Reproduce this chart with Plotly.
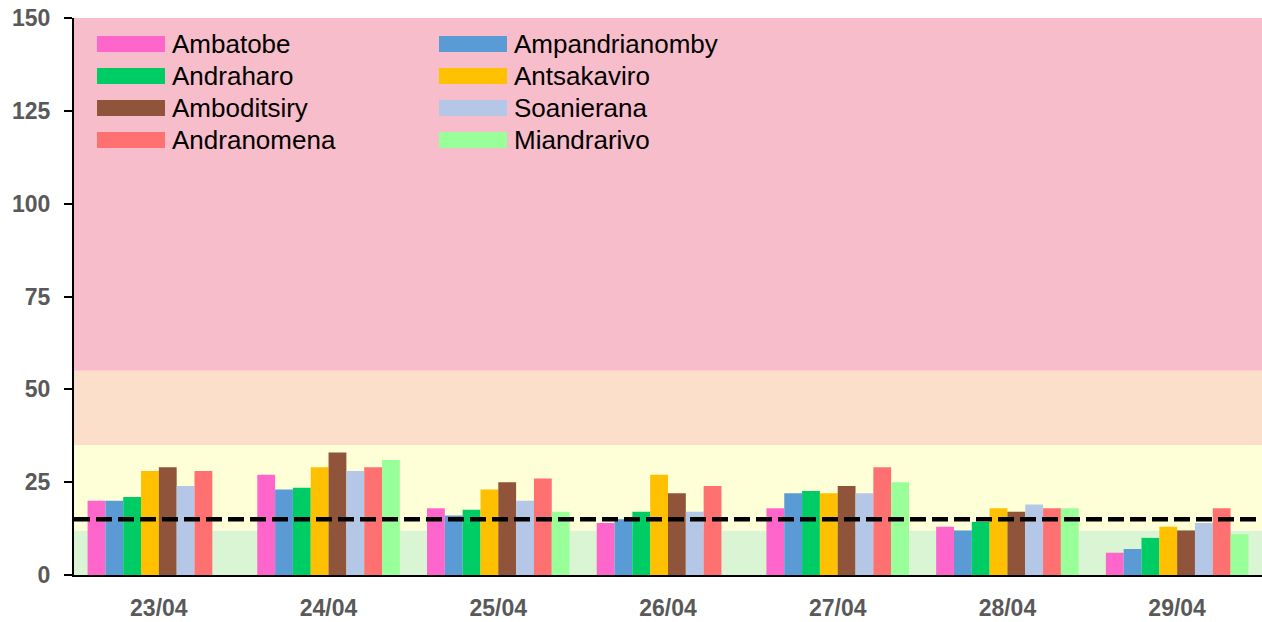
import plotly.graph_objects as go

dates = ["23/04", "24/04", "25/04", "26/04", "27/04", "28/04", "29/04"]

series_names = ["Ambatobe", "Ampandrianomby", "Andraharo", "Antsakaviro",
                "Amboditsiry", "Soanierana", "Andranomena", "Miandrarivo"]
series_colors = ["#FF66CC", "#5B9BD5", "#00CC66", "#FFC000",
                 "#8F5439", "#B4C7E7", "#FF7171", "#99FF99"]

ambatobe = [20, 27, 18, 14, 18, 13, 6]
ampandrianomby = [20, 23, 16, 15, 22, 12, 7]
andraharo = [21, 23.5, 17.6, 17, 22.6, 14.3, 10]
antsakaviro = [28, 29, 23, 27, 22, 18, 13]
amboditsiry = [29, 33, 25, 22, 24, 17, 12]
soanierana = [24, 28, 20, 17, 22, 19, 14]
andranomena = [28, 29, 26, 24, 29, 18, 18]
miandrarivo = [None, 31, 17, None, 25, 18, 11]

series_values = [ambatobe, ampandrianomby, andraharo, antsakaviro,
                 amboditsiry, soanierana, andranomena, miandrarivo]

y_ticks = [0, 25, 50, 75, 100, 125, 150]
threshold = 15
band_edges = [0, 12, 35, 55, 150]
band_colors = ["#D9F5D3", "#FEFED7", "#FBDFCB", "#F8BDCB"]

fig = go.Figure()
for name, color, vals in zip(series_names, series_colors, series_values):
    fig.add_trace(go.Bar(x=dates, y=vals, name=name,
                         marker=dict(color=color, line=dict(width=0)),
                         showlegend=False))

# background bands
for lo, hi, c in zip(band_edges[:-1], band_edges[1:], band_colors):
    fig.add_shape(type="rect", xref="paper", yref="y", x0=0, x1=1, y0=lo, y1=hi,
                  fillcolor=c, line=dict(width=0), layer="below")

# threshold dashed line
fig.add_shape(type="line", xref="paper", yref="y", x0=0, x1=1, y0=threshold, y1=threshold,
              line=dict(color="black", width=4.5, dash="16px,6px"), layer="above")

# legend (2 columns, row-major), positions in page pixels
plot_left, plot_right, plot_top, plot_bottom = 74, 1262, 18, 575
plot_w = plot_right - plot_left
plot_h = plot_bottom - plot_top
col_x = [97, 439]
row_y = [44, 76, 108, 140]
sw_w, sw_h = 68, 16
for i, (name, color) in enumerate(zip(series_names, series_colors)):
    col, row = i % 2, i // 2
    x0 = (col_x[col] - plot_left) / plot_w
    x1 = (col_x[col] + sw_w - plot_left) / plot_w
    yc = 1 - (row_y[row] - plot_top) / plot_h
    hh = sw_h / 2 / plot_h
    fig.add_shape(type="rect", xref="paper", yref="paper", x0=x0, x1=x1,
                  y0=yc - hh, y1=yc + hh, fillcolor=color, line=dict(width=0))
    fig.add_annotation(xref="paper", yref="paper",
                       x=(col_x[col] + sw_w + 5 - plot_left) / plot_w, y=yc,
                       text=name, showarrow=False, xanchor="left", yanchor="middle",
                       font=dict(family="Liberation Sans", size=26, color="black"))

fig.update_layout(
    width=1262, height=622,
    margin=dict(l=74, r=0, t=18, b=47, pad=0),
    paper_bgcolor="white", plot_bgcolor="white",
    barmode="group", bargap=0.16, bargroupgap=0,
    xaxis=dict(showline=True, linecolor="black", linewidth=2, ticks="",
               showgrid=False, zeroline=False, ticklabelstandoff=11, automargin=False,
               tickfont=dict(family="Liberation Sans", size=23, color="#595959", weight="bold")),
    yaxis=dict(range=[0, 150], tickvals=y_ticks, showline=True, linecolor="black",
               linewidth=2, ticks="outside", ticklen=8, tickwidth=2, tickcolor="black",
               showgrid=False, zeroline=False, ticklabeloverflow="allow",
               ticklabelstandoff=9, automargin=False,
               tickfont=dict(family="Liberation Sans", size=23, color="#595959", weight="bold")),
)

# remove the default page margin so the figure fills the window exactly
fig.write_html("out.html", config={"displayModeBar": False},
               post_script="document.body.style.margin='0';document.body.style.overflow='hidden';")
